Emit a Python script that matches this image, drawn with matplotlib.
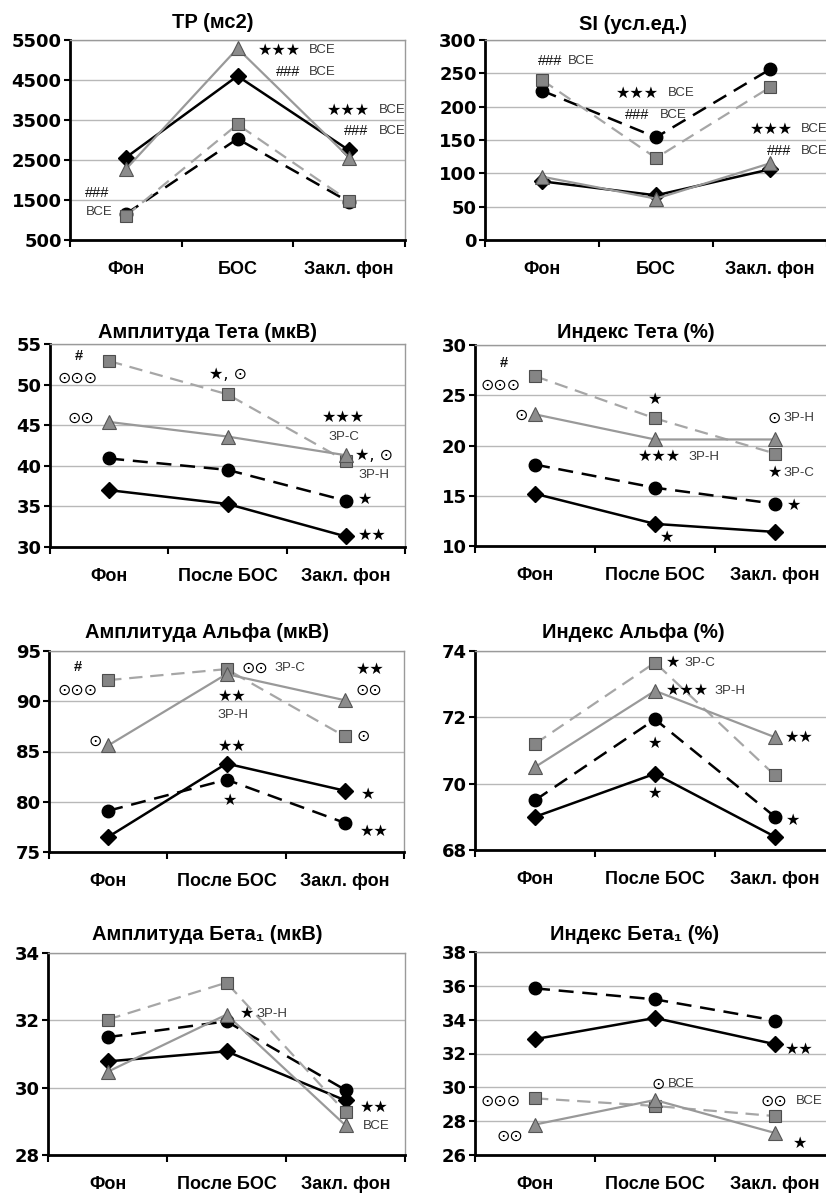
import numpy as np
import matplotlib
matplotlib.use('Agg')
from matplotlib import pyplot as plt
from matplotlib.ticker import FixedLocator

plt.rcParams['font.family'] = ['Liberation Sans', 'DejaVu Sans']

W, H = 826, 1196

stages_short = ['Фон', 'БОС', 'Закл. фон']
stages = ['Фон', 'После БОС', 'Закл. фон']

# TP (мс2)
tp_diamond = [2560, 4600, 2740]
tp_circle = [1150, 3030, 1450]
tp_square = [1100, 3390, 1475]
tp_triangle = [2270, 5290, 2560]
tp_ticks = [500, 1500, 2500, 3500, 4500, 5500]

# SI (усл.ед.)
si_diamond = [88, 67, 106]
si_circle = [224, 154, 256]
si_square = [240, 123, 229]
si_triangle = [95, 62, 115]
si_ticks = [0, 50, 100, 150, 200, 250, 300]

# Амплитуда Тета (мкВ)
ath_diamond = [37.0, 35.3, 31.3]
ath_circle = [40.9, 39.5, 35.7]
ath_square = [52.9, 48.8, 40.6]
ath_triangle = [45.4, 43.6, 41.3]
ath_ticks = [30, 35, 40, 45, 50, 55]

# Индекс Тета (%)
ith_diamond = [15.2, 12.2, 11.4]
ith_circle = [18.1, 15.8, 14.2]
ith_square = [26.9, 22.7, 19.2]
ith_triangle = [23.1, 20.6, 20.6]
ith_ticks = [10, 15, 20, 25, 30]

# Амплитуда Альфа (мкВ)
aal_diamond = [76.5, 83.8, 81.1]
aal_circle = [79.1, 82.2, 77.9]
aal_square = [92.1, 93.2, 86.5]
aal_triangle = [85.6, 92.7, 90.1]
aal_ticks = [75, 80, 85, 90, 95]

# Индекс Альфа (%)
ial_diamond = [69.0, 70.3, 68.4]
ial_circle = [69.5, 71.94, 69.0]
ial_square = [71.2, 73.65, 70.25]
ial_triangle = [70.5, 72.8, 71.4]
ial_ticks = [68, 70, 72, 74]

# Амплитуда Бета1 (мкВ)
abe_diamond = [30.78, 31.08, 29.62]
abe_circle = [31.5, 31.97, 29.93]
abe_square = [32.02, 33.12, 29.27]
abe_triangle = [30.47, 32.17, 28.88]
abe_ticks = [28, 30, 32, 34]

# Индекс Бета1 (%)
ibe_diamond = [32.85, 34.1, 32.55]
ibe_circle = [35.85, 35.2, 33.95]
ibe_square = [29.35, 28.9, 28.3]
ibe_triangle = [27.8, 29.25, 27.3]
ibe_ticks = [26, 28, 30, 32, 34, 36, 38]

fig = plt.figure(figsize=(W / 100, H / 100), dpi=100)


def note(ax, x, y, s, kind):
    if kind == 'sym':
        ax.text(x, y, s, fontsize=11.5, color='black', family=['DejaVu Sans'],
                ha='left', va='center', zorder=6)
    elif kind == 'hash':
        ax.text(x, y, s, fontsize=10.5, color='#111111', ha='left', va='center', zorder=6)
    elif kind == 'hashb':
        ax.text(x, y, s, fontsize=10.5, color='#111111', fontweight='bold',
                ha='left', va='center', zorder=6)
    else:
        ax.text(x, y, s, fontsize=9.5, color='#3a3a3a', ha='left', va='center', zorder=6)


def panel(box, title, title_x, title_y, labels, diamond, circle, square, triangle, yticks, notes):
    l, t, r, b = box
    ax = fig.add_axes([l / W, 1 - b / H, (r - l) / W, (b - t) / H])
    x = np.arange(3) + 0.5
    ax.plot(x, diamond, color='black', lw=1.8, marker='D', ms=8,
            mfc='black', mec='black', zorder=3, clip_on=False)
    ax.plot(x, circle, color='black', lw=1.8, dashes=(6, 3.5), marker='o', ms=9,
            mfc='black', mec='black', zorder=3, clip_on=False)
    ax.plot(x, square, color='#a6a6a6', lw=1.6, dashes=(6, 3.5), marker='s', ms=9,
            mfc='#858585', mec='#4d4d4d', mew=0.8, zorder=4, clip_on=False)
    ax.plot(x, triangle, color='#999999', lw=1.6, marker='^', ms=10,
            mfc='#8c8c8c', mec='#555555', mew=0.8, zorder=4, clip_on=False)

    ax.set_xlim(0, 3)
    ax.set_ylim(yticks[0], yticks[-1])
    ax.set_yticks(yticks)
    ax.set_yticklabels([str(v) for v in yticks], fontsize=13,
                       fontweight='bold', family=['DejaVu Sans'])
    ax.xaxis.set_major_locator(FixedLocator([0, 1, 2, 3]))
    ax.xaxis.set_minor_locator(FixedLocator(list(x)))
    ax.set_xticklabels([])
    ax.set_xticklabels(labels, minor=True, fontsize=13, fontweight='bold')
    ax.tick_params(axis='x', which='major', direction='out', length=5, width=1.5)
    ax.tick_params(axis='x', which='minor', length=0, pad=15)
    ax.tick_params(axis='y', direction='out', length=4, width=1.5, pad=2)
    ax.grid(axis='y', color='#b8b8b8', lw=1)
    ax.set_axisbelow(True)
    for side in ['top', 'right']:
        ax.spines[side].set_color('#9a9a9a')
        ax.spines[side].set_linewidth(1)
    for side in ['left', 'bottom']:
        ax.spines[side].set_color('black')
        ax.spines[side].set_linewidth(2)
    fig.text(title_x / W, 1 - title_y / H, title, ha='center', va='center',
             fontsize=14.5, fontweight='bold')
    for nx, ny, s, kind in notes:
        note(ax, nx, ny, s, kind)
    return ax


panel((70, 40, 405, 240), 'TP (мс2)', 213, 23, stages_short,
      tp_diamond, tp_circle, tp_square, tp_triangle, tp_ticks,
      [(1.68, 5250, '★★★', 'sym'), (2.14, 5250, 'ВСЕ', 'small'),
       (1.84, 4710, '###', 'hash'), (2.14, 4710, 'ВСЕ', 'small'),
       (2.3, 3750, '★★★', 'sym'), (2.77, 3750, 'ВСЕ', 'small'),
       (2.45, 3225, '###', 'hash'), (2.77, 3225, 'ВСЕ', 'small'),
       (0.13, 1675, '###', 'hash'), (0.14, 1200, 'ВСЕ', 'small')])

panel((485, 40, 827, 240), 'SI (усл.ед.)', 633, 25, stages_short,
      si_diamond, si_circle, si_square, si_triangle, si_ticks,
      [(0.46, 268, '###', 'hash'), (0.73, 268, 'ВСЕ', 'small'),
       (1.15, 220, '★★★', 'sym'), (1.6, 220, 'ВСЕ', 'small'),
       (1.23, 187, '###', 'hash'), (1.53, 187, 'ВСЕ', 'small'),
       (2.32, 166, '★★★', 'sym'), (2.77, 166, 'ВСЕ', 'small'),
       (2.47, 133, '###', 'hash'), (2.77, 133, 'ВСЕ', 'small')])

panel((50, 344, 405, 547), 'Амплитуда Тета (мкВ)', 207, 332, stages,
      ath_diamond, ath_circle, ath_square, ath_triangle, ath_ticks,
      [(0.21, 53.5, '#', 'hashb'), (0.06, 50.8, '⊙⊙⊙', 'sym'),
       (0.15, 45.9, '⊙⊙', 'sym'), (1.34, 51.3, '★, ⊙', 'sym'),
       (2.3, 45.9, '★★★', 'sym'), (2.35, 43.5, 'ЗР-С', 'small'),
       (2.58, 41.3, '★, ⊙', 'sym'), (2.61, 38.9, 'ЗР-Н', 'small'),
       (2.6, 35.8, '★', 'sym'), (2.6, 31.4, '★★', 'sym')])

panel((475, 345, 835, 546), 'Индекс Тета (%)', 636, 332, stages,
      ith_diamond, ith_circle, ith_square, ith_triangle, ith_ticks,
      [(0.21, 28.2, '#', 'hashb'), (0.05, 26.0, '⊙⊙⊙', 'sym'),
       (0.33, 23.0, '⊙', 'sym'), (1.44, 24.6, '★', 'sym'),
       (1.36, 18.9, '★★★', 'sym'), (1.78, 18.9, 'ЗР-Н', 'small'),
       (2.44, 22.7, '⊙', 'sym'), (2.57, 22.7, 'ЗР-Н', 'small'),
       (2.44, 17.3, '★', 'sym'), (2.57, 17.3, 'ЗР-С', 'small'),
       (2.6, 14.0, '★', 'sym'), (1.54, 10.9, '★', 'sym')])

panel((49, 651, 404, 852), 'Амплитуда Альфа (мкВ)', 207, 633, stages,
      aal_diamond, aal_circle, aal_square, aal_triangle, aal_ticks,
      [(0.21, 93.4, '#', 'hashb'), (0.07, 91.1, '⊙⊙⊙', 'sym'),
       (0.33, 86.0, '⊙', 'sym'), (1.63, 93.3, '⊙⊙', 'sym'),
       (1.91, 93.3, 'ЗР-С', 'small'), (1.43, 90.5, '★★', 'sym'),
       (1.42, 88.6, 'ЗР-Н', 'small'), (1.43, 85.5, '★★', 'sym'),
       (1.47, 80.1, '★', 'sym'), (2.59, 93.2, '★★', 'sym'),
       (2.59, 91.1, '⊙⊙', 'sym'), (2.6, 86.5, '⊙', 'sym'),
       (2.64, 80.7, '★', 'sym'), (2.63, 77.0, '★★', 'sym')])

panel((475, 651, 835, 850), 'Индекс Альфа (%)', 633, 633, stages,
      ial_diamond, ial_circle, ial_square, ial_triangle, ial_ticks,
      [(1.59, 73.65, '★', 'sym'), (1.75, 73.65, 'ЗР-С', 'small'),
       (1.59, 72.8, '★★★', 'sym'), (2.0, 72.8, 'ЗР-Н', 'small'),
       (1.44, 71.2, '★', 'sym'), (1.44, 69.7, '★', 'sym'),
       (2.58, 71.4, '★★', 'sym'), (2.59, 68.9, '★', 'sym')])

panel((48, 953, 405, 1155), 'Амплитуда Бета₁ (мкВ)', 207, 935, stages,
      abe_diamond, abe_circle, abe_square, abe_triangle, abe_ticks,
      [(1.61, 32.2, '★', 'sym'), (1.75, 32.2, 'ЗР-Н', 'small'),
       (2.62, 29.4, '★★', 'sym'), (2.65, 28.85, 'ВСЕ', 'small')])

panel((475, 952, 835, 1155), 'Индекс Бета₁ (%)', 635, 935, stages,
      ibe_diamond, ibe_circle, ibe_square, ibe_triangle, ibe_ticks,
      [(0.05, 29.2, '⊙⊙⊙', 'sym'), (0.18, 27.1, '⊙⊙', 'sym'),
       (1.47, 30.2, '⊙', 'sym'), (1.61, 30.2, 'ВСЕ', 'small'),
       (2.38, 29.2, '⊙⊙', 'sym'), (2.67, 29.2, 'ВСЕ', 'small'),
       (2.58, 32.25, '★★', 'sym'), (2.65, 26.7, '★', 'sym')])

fig.savefig('out.png', dpi=100)
